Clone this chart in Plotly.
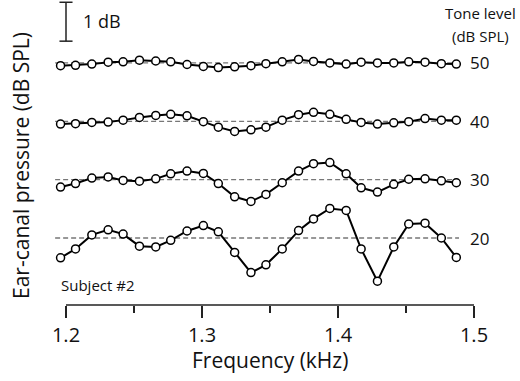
import plotly.graph_objects as go

# ---- data ----
freq_khz = [1.196, 1.207, 1.219, 1.231, 1.242, 1.254, 1.266, 1.277, 1.289, 1.301,
            1.312, 1.324, 1.336, 1.347, 1.359, 1.371, 1.382, 1.394, 1.406, 1.417,
            1.429, 1.441, 1.452, 1.464, 1.476, 1.487]
# deviation from each tone level's mean (dB)
dev_50 = [-0.07, -0.06, -0.03, 0.02, 0.03, 0.07, 0.05, 0.03, -0.04, -0.09,
          -0.12, -0.10, -0.07, -0.02, 0.03, 0.09, 0.04, 0.00, -0.03, 0.02,
          0.00, 0.00, 0.03, 0.02, -0.02, -0.03]
dev_40 = [-0.07, -0.06, -0.03, -0.02, 0.03, 0.10, 0.15, 0.18, 0.14, -0.01,
          -0.15, -0.26, -0.22, -0.15, 0.03, 0.17, 0.23, 0.18, 0.05, -0.03,
          -0.07, -0.04, -0.01, 0.07, 0.03, 0.03]
dev_30 = [-0.19, -0.10, 0.04, 0.07, -0.02, -0.04, 0.02, 0.15, 0.22, 0.16,
          -0.10, -0.44, -0.56, -0.38, -0.08, 0.22, 0.41, 0.44, 0.15, -0.21,
          -0.32, -0.12, 0.01, 0.02, -0.03, -0.08]
dev_20 = [-0.51, -0.28, 0.08, 0.21, 0.10, -0.21, -0.23, -0.06, 0.18, 0.32,
          0.16, -0.37, -0.89, -0.69, -0.28, 0.19, 0.49, 0.76, 0.71, -0.28,
          -1.11, -0.23, 0.36, 0.38, 0.00, -0.50]
tone_levels = [50, 40, 30, 20]
series = {50: dev_50, 40: dev_40, 30: dev_30, 20: dev_20}
x_ticks = [1.2, 1.3, 1.4, 1.5]
x_minor = [1.25, 1.35, 1.45]

# ---- layout constants ----
W, H = 520, 381
L, R, T, B = 52, 32, 0, 76
PW, PH = W - L - R, H - T - B
SPACING = 0.15  # dB of display offset per dB of tone level
FONT = "Open Sans"
TXT = "#111111"

def offset(level):
    return (level - 20) * SPACING

def px(x):
    return (x - L) / PW

def py(y):
    return (H - B - y) / PH

fig = go.Figure()

shapes = []
for lvl in tone_levels:
    ys = [offset(lvl) + d for d in series[lvl]]
    fig.add_trace(go.Scatter(
        x=freq_khz, y=ys, mode="lines+markers",
        line=dict(color="black", width=2),
        marker=dict(size=8, color="white", line=dict(color="black", width=1.5)),
        showlegend=False, hoverinfo="skip"))
    shapes.append(dict(type="line", xref="x", yref="y", layer="below",
                       x0=1.192, x1=1.489, y0=offset(lvl), y1=offset(lvl),
                       line=dict(color="#777777", width=1.3, dash="5px,3px")))

# x axis line
shapes.append(dict(type="line", xref="x", yref="paper", x0=1.2, x1=1.5, y0=0, y1=0,
                   line=dict(color="#222222", width=1.5)))
# 1 dB scale bar
sb_y0 = offset(50) + 0.56
sb_y1 = sb_y0 + 1.0
shapes.append(dict(type="line", xref="x", yref="y", x0=1.2, x1=1.2, y0=sb_y0, y1=sb_y1,
                   line=dict(color="#222222", width=1.5)))
for yy in (sb_y0, sb_y1):
    shapes.append(dict(type="line", xref="x", yref="y", x0=1.1952, x1=1.2048, y0=yy, y1=yy,
                       line=dict(color="#222222", width=1.5)))

annotations = [
    dict(text="1 dB", x=px(81), y=py(21), xanchor="left", yanchor="middle", font=dict(size=18)),
    dict(text="Tone level", x=px(480), y=py(13), xanchor="center", yanchor="middle", font=dict(size=15)),
    dict(text="(dB SPL)", x=px(480), y=py(36), xanchor="center", yanchor="middle", font=dict(size=15)),
    dict(text="Subject #2", x=px(59), y=py(285), xanchor="left", yanchor="middle", font=dict(size=15)),
    dict(text="Frequency (kHz)", x=px(270), y=py(360), xanchor="center", yanchor="middle", font=dict(size=21)),
    dict(text="Ear-canal pressure (dB SPL)", x=px(21), y=py(166), xanchor="center", yanchor="middle",
         textangle=-90, font=dict(size=21)),
]
for lvl in tone_levels:
    annotations.append(dict(text=str(lvl), xref="x", yref="y", x=1.5044, y=offset(lvl),
                            xanchor="center", yanchor="middle", font=dict(size=17)))
for a in annotations:
    a.setdefault("xref", "paper")
    a.setdefault("yref", "paper")
    a["showarrow"] = False
    a["font"].update(family=FONT, color=TXT)

x0 = 1.2 - (66 - L) / 1360
x1 = x0 + PW / 1360
y_bottom = -(305 - 238) / 38.9
y_top = 238 / 38.9

fig.update_layout(
    width=W, height=H, margin=dict(l=L, r=R, t=T, b=B),
    paper_bgcolor="white", plot_bgcolor="white",
    font=dict(family=FONT, color=TXT),
    xaxis=dict(range=[x0, x1], showgrid=False, zeroline=False, showline=False,
               tickvals=x_ticks, ticktext=[f"{v:.1f}" for v in x_ticks],
               ticks="outside", ticklen=12, tickwidth=1.5, tickcolor="#222222",
               tickfont=dict(size=20, family=FONT, color=TXT),
               minor=dict(tickvals=x_minor, ticks="outside", ticklen=7, tickwidth=1.5,
                          tickcolor="#222222", showgrid=False)),
    yaxis=dict(range=[y_bottom, y_top], visible=False),
    shapes=shapes, annotations=annotations,
)

fig.write_html("out.html")
